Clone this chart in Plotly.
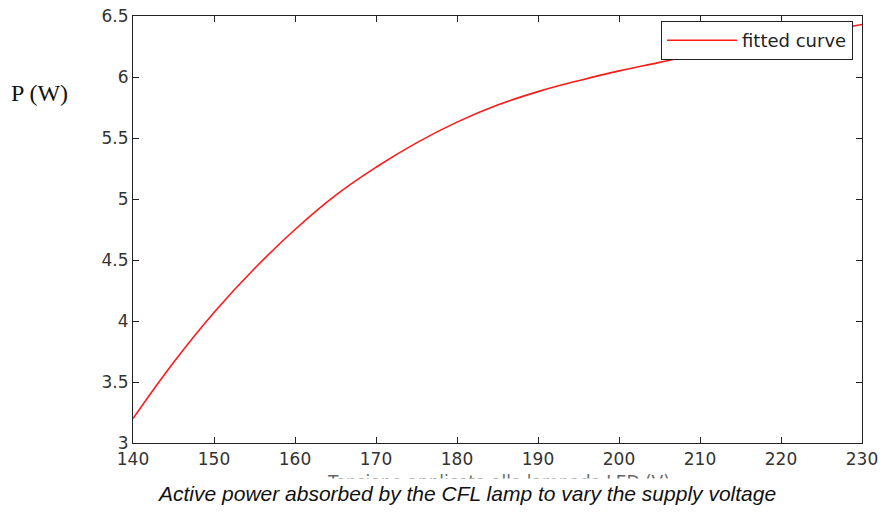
import plotly.graph_objects as go

# supply voltage (V) and fitted active power (W)
voltage = [140, 145, 150, 155, 160, 165, 170, 175, 180, 185,
           190, 195, 200, 205, 210, 215, 220, 225, 230]
power = [3.20, 3.66, 4.07, 4.43, 4.75, 5.03, 5.26, 5.46, 5.63, 5.77,
         5.88, 5.97, 6.05, 6.12, 6.19, 6.25, 6.31, 6.37, 6.43]

x_ticks = list(range(140, 231, 10))
y_ticks = [3, 3.5, 4, 4.5, 5, 5.5, 6, 6.5]

# the page body adds an 8px margin, so the figure is 8px smaller
W, H = 878, 506
L, R, T, B = 125, 24, 8, 71
pw, ph = W - L - R, H - T - B


def px(x):
    return (x - L) / pw


def py(y):
    return (H - B - y) / ph


fig = go.Figure()
fig.add_trace(go.Scatter(
    x=voltage, y=power, mode='lines', name='fitted curve',
    line=dict(color='#ff1a1a', width=1.6, shape='spline', smoothing=1.2),
))

axis_style = dict(
    showgrid=False, zeroline=False, showline=True, linecolor='#222',
    linewidth=1.2, mirror='ticks', ticks='inside', ticklen=6,
    tickcolor='#222', ticklabeloverflow='allow', automargin=False,
    tickfont=dict(family='DejaVu Sans', size=17, color='#333'),
)

fig.update_layout(
    width=W, height=H,
    margin=dict(l=L, r=R, t=T, b=B, autoexpand=False),
    paper_bgcolor='white', plot_bgcolor='white',
    xaxis=dict(range=[140, 230], tickvals=x_ticks, **axis_style),
    yaxis=dict(range=[3, 6.5], tickvals=y_ticks, **axis_style),
    showlegend=True,
    legend=dict(
        x=px(845), y=py(13), xanchor='right', yanchor='top',
        bgcolor='white', bordercolor='#222', borderwidth=1, itemwidth=70,
        font=dict(family='DejaVu Sans', size=18, color='#222'),
    ),
    annotations=[
        dict(text='P (W)', x=px(31), y=py(85), xref='paper', yref='paper',
             xanchor='center', yanchor='middle', showarrow=False,
             font=dict(family='Liberation Serif', size=24, color='#111')),
        # axis title, half hidden behind the caption as in the original
        dict(text='Tensione applicata alla lampada LED (V)', x=px(490), y=py(474),
             xref='paper', yref='paper', xanchor='center', yanchor='middle',
             showarrow=False, font=dict(family='DejaVu Sans', size=17, color='#666')),
        dict(text='<i>Active power absorbed by the CFL lamp to vary the supply voltage</i>',
             x=px(458), y=py(486), xref='paper', yref='paper',
             xanchor='center', yanchor='middle', showarrow=False,
             bgcolor='white', borderpad=3,
             font=dict(family='Liberation Sans', size=21, color='#111')),
    ],
)

fig.write_html("out.html")
